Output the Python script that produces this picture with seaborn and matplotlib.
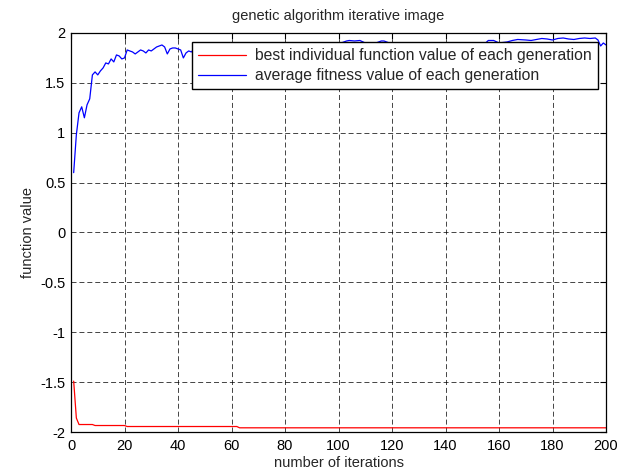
"""
Genetic algorithm iteration curves (MATLAB-style figure) redrawn with seaborn.
"""

import pandas as pd
import matplotlib
matplotlib.use('Agg')
import matplotlib.pyplot as plt
import seaborn as sns

# ============================================================================
# DATA
# ============================================================================

# best individual function value of each generation
best_iter = [1, 2, 3, 8, 9, 20, 21, 62, 63, 200]
best_value = [-1.49, -1.86, -1.925, -1.925, -1.935, -1.935, -1.945, -1.945, -1.958, -1.958]

# average fitness value of each generation
avg_iter = [1, 2, 3, 4, 5, 6, 7, 8, 9, 10, 11, 12, 13, 14, 15, 16, 17, 18, 19, 20,
            21, 22, 23, 24, 25, 26, 27, 28, 29, 30, 31, 32, 33, 34, 35, 36, 37, 38, 39, 40,
            41, 42, 43, 44, 45, 46, 49, 52, 55, 58, 61, 64, 67, 70, 73, 76, 79, 82, 85, 88,
            91, 94, 97, 100, 103, 104, 106, 108, 110, 113, 116, 117, 119, 122, 126, 130,
            134, 138, 142, 146, 150, 153, 155, 156, 158, 160, 163, 165, 167, 170, 172, 174,
            176, 178, 180, 182, 184, 186, 188, 190, 192, 194, 196, 197, 198, 199, 200]
avg_value = [0.60, 0.98, 1.20, 1.26, 1.15, 1.28, 1.34, 1.58, 1.61, 1.58, 1.62, 1.65, 1.70, 1.69,
             1.74, 1.71, 1.78, 1.77, 1.74, 1.75, 1.83, 1.82, 1.81, 1.79, 1.81, 1.83, 1.82, 1.80,
             1.83, 1.82, 1.84, 1.86, 1.87, 1.88, 1.86, 1.79, 1.84, 1.85, 1.85, 1.84, 1.83, 1.75,
             1.80, 1.82, 1.81, 1.84, 1.86, 1.83, 1.87, 1.85, 1.88, 1.86, 1.88, 1.87, 1.89, 1.86,
             1.88, 1.89, 1.87, 1.90, 1.88, 1.89, 1.90, 1.89, 1.92, 1.925, 1.92, 1.925, 1.90,
             1.89, 1.92, 1.92, 1.90, 1.88, 1.89, 1.87, 1.90, 1.88, 1.89, 1.90, 1.88, 1.89, 1.90,
             1.925, 1.925, 1.90, 1.91, 1.925, 1.935, 1.93, 1.925, 1.935, 1.945, 1.94, 1.93,
             1.945, 1.95, 1.94, 1.935, 1.945, 1.95, 1.945, 1.95, 1.93, 1.87, 1.90, 1.88]

x_ticks = [0, 20, 40, 60, 80, 100, 120, 140, 160, 180, 200]
y_ticks = [-2, -1.5, -1, -0.5, 0, 0.5, 1, 1.5, 2]
y_tick_labels = ['-2', '-1.5', '-1', '-0.5', '0', '0.5', '1', '1.5', '2']

best_df = pd.DataFrame({'iteration': best_iter, 'value': best_value})
avg_df = pd.DataFrame({'iteration': avg_iter, 'value': avg_value})

# ============================================================================
# PLOT
# ============================================================================

sns.set_style('white')
plt.rcParams['font.family'] = ['Liberation Sans', 'DejaVu Sans']
plt.rcParams['axes.unicode_minus'] = False

fig = plt.figure(figsize=(6.19, 4.74), dpi=100)
ax = fig.add_axes([71 / 619, 1 - 432 / 474, 535 / 619, 399 / 474])

sns.lineplot(data=best_df, x='iteration', y='value', color='red', linewidth=0.9,
             label='best individual function value of each generation', ax=ax)
sns.lineplot(data=avg_df, x='iteration', y='value', color='blue', linewidth=0.9,
             label='average fitness value of each generation', ax=ax)

ax.set_xlim(0, 200)
ax.set_ylim(-2, 2)
ax.set_xticks(x_ticks)
ax.set_yticks(y_ticks)
ax.set_yticklabels(y_tick_labels)

ax.grid(True, color='black', linestyle=(0, (6, 3.5)), linewidth=0.6, alpha=0.85)
ax.tick_params(direction='in', length=4, width=0.8, top=True, right=True,
               labelsize=10.5, colors='black')
ax.tick_params(axis='x', pad=5)
ax.tick_params(axis='y', pad=4)
for spine in ax.spines.values():
    spine.set_visible(True)
    spine.set_color('black')
    spine.set_linewidth(0.9)

ax.set_title('genetic algorithm iterative image', fontsize=10.5, pad=9)
ax.set_xlabel('number of iterations', fontsize=10.5, labelpad=2)
ax.set_ylabel('function value', fontsize=10.5, labelpad=4)

leg = ax.legend(loc='upper right', bbox_to_anchor=(0.985, 0.977), fontsize=11.3,
                frameon=True, fancybox=False, framealpha=1, edgecolor='black',
                handlelength=3.0, borderpad=0.4, labelspacing=0.3, handletextpad=0.6,
                borderaxespad=0)
leg.get_frame().set_linewidth(1.0)
leg.set_zorder(5)

plt.savefig('out.png', dpi=100)
print("[OK] Saved out.png")
